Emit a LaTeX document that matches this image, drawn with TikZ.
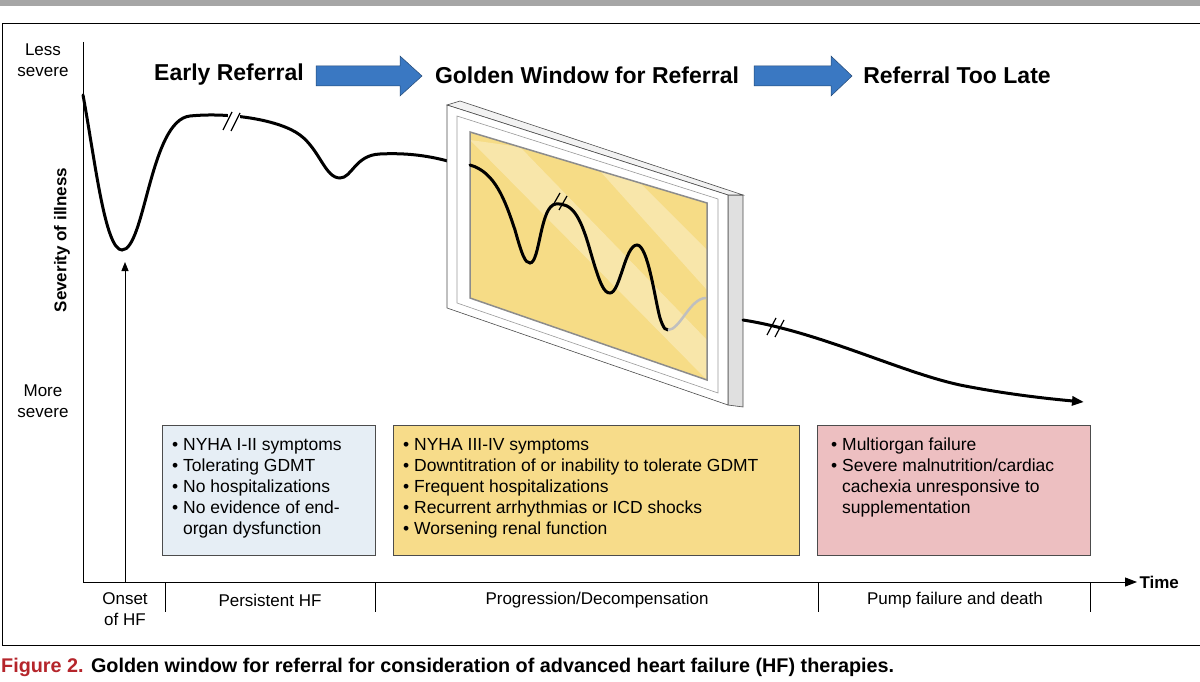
\documentclass[tikz,border=0pt]{standalone}
\usepackage{fontspec}
\setmainfont{Liberation Sans}
\usetikzlibrary{arrows.meta}
\definecolor{bluebox}{HTML}{E6EEF5}
\definecolor{yelbox}{HTML}{F7DC8A}
\definecolor{pinkbox}{HTML}{EDBFC1}
\definecolor{arrowblue}{HTML}{3A78C2}
\definecolor{capred}{HTML}{B5252B}
\definecolor{glass}{HTML}{F6DC86}
\begin{document}
\begin{tikzpicture}[x=1pt,y=-1pt,
  txt/.style={font=\fontsize{17.5}{21}\selectfont,align=left,anchor=north west,inner sep=0pt},
  box/.style={draw=black!70,line width=0.6pt},
  head/.style={font=\fontsize{23}{26}\selectfont\bfseries},
  barr/.style={fill=arrowblue,draw=arrowblue!60!black,line width=0.5pt},
  curve/.style={line width=3pt,line cap=round},
  brk/.style={line width=1.2pt},
  lab/.style={font=\fontsize{17}{21}\selectfont,align=center}]
\useasboundingbox (0,0) rectangle (1200,682);
\fill[black!35] (0,0) rectangle (1200,6);
\draw[line width=1pt] (2,24) -- (1200,24);
\draw[line width=0.8pt] (2,24) -- (2,645) -- (1200,645);
% axes
\draw[line width=1pt] (83,42) -- (83,582);
\draw[line width=1pt,-{Triangle[length=12pt,width=9pt]}] (83,582) -- (1137,582) node[right,font=\fontsize{17}{20}\selectfont\bfseries,inner sep=2pt] (time) {Time};
\foreach \x in {165,375,818,1090} \draw[line width=1pt] (\x,582) -- (\x,612);
\node[lab] (onset) at (125,609) {Onset\\of HF};
\node[lab] (pers) at (270,600) {Persistent HF};
\node[lab] (prog) at (597,600) {Progression/Decompensation};
\node[lab] (pump) at (955,600) {Pump failure and death};
\node[lab] (less) at (43,60) {Less\\severe};
\node[lab] (more) at (43,401) {More\\severe};
\node[rotate=90,font=\fontsize{17}{20}\selectfont\bfseries] (sev) at (62,240) {Severity of illness};
\draw[line width=1pt,-{Triangle[length=9pt,width=7pt]}] (125,582) -- (125,262);
% headings
\node[head] (h1) at (229,75) {Early Referral};
\node[head] (h2) at (587,75) {Golden Window for Referral};
\node[head] (h3) at (957,75) {Referral Too Late};
\draw[barr] (316,66) -- (400,66) -- (400,56) -- (422,76) -- (400,96) -- (400,86) -- (316,86) -- cycle;
\draw[barr] (754,66) -- (831,66) -- (831,56) -- (852,76) -- (831,96) -- (831,86) -- (754,86) -- cycle;
% curve outside window
\draw[curve] (83,95) .. controls (95,160) and (105,250) .. (122,250) .. controls (145,250) and (150,120) .. (190,116)
  .. controls (230,112) and (280,120) .. (300,135) .. controls (320,150) and (325,178) .. (340,178)
  .. controls (352,178) and (355,155) .. (380,154) .. controls (420,152) and (450,160) .. (480,172);
% window
\fill[black!12,draw=black!70,line width=0.6pt] (728,195) -- (743,195) -- (743,407) -- (728,405) -- cycle;
\fill[black!5,draw=black!70,line width=0.6pt] (447,105) -- (460,101) -- (743,195) -- (728,195) -- cycle;
\fill[white,draw=black!70,line width=0.6pt] (447,105) -- (728,195) -- (728,405) -- (447,308) -- cycle;
\draw[black!40,line width=0.6pt] (457,116) -- (718,199) -- (718,393) -- (457,303) -- cycle;
\begin{scope}
\clip (470,132) -- (707,203) -- (707,380) -- (470,298) -- cycle;
\fill[glass] (400,100) rectangle (720,400);
\fill[white,opacity=0.3] (470,140) -- (520,147) -- (707,340) -- (707,380) -- cycle;
\fill[white,opacity=0.3] (600,171) -- (640,183) -- (707,250) -- (707,290) -- cycle;
\end{scope}
\draw[black!45,line width=1.5pt] (470,132) -- (707,203) -- (707,380) -- (470,298) -- cycle;
\draw[curve] (470,165) .. controls (495,172) and (505,200) .. (515,230)
  .. controls (522,255) and (525,263) .. (530,263) .. controls (540,263) and (540,205) .. (556,204)
  .. controls (572,203) and (580,215) .. (590,250) .. controls (600,285) and (604,293) .. (610,293)
  .. controls (620,293) and (625,245) .. (637,245) .. controls (648,245) and (655,300) .. (660,318)
  .. controls (664,330) and (666,330) .. (668,330);
\draw[line width=2.5pt,black!25] (668,330) .. controls (680,330) and (690,298) .. (706,298);
\draw[brk] (552,207) -- (560,193); \draw[brk] (559,210) -- (567,196);
% curve after window
\draw[curve,-{Triangle[length=12pt,width=9pt]}] (743,320) .. controls (820,332) and (900,372) .. (960,385) .. controls (1000,393) and (1040,398) .. (1084,402);
\draw[brk] (767,335) -- (776,318); \draw[brk] (775,337) -- (784,320);
% breaks on first curve
\fill[white] (228,108) rectangle (240,128);
\draw[brk] (223,130) -- (232,112); \draw[brk] (231,131) -- (240,113);
% boxes
\draw[box,fill=bluebox] (162,425) rectangle (375,555);
\draw[box,fill=yelbox] (393,425) rectangle (799,555);
\draw[box,fill=pinkbox] (817,425) rectangle (1090,555);
\node[txt] (t1) at (172,438) {• NYHA I-II symptoms\\• Tolerating GDMT\\• No hospitalizations\\• No evidence of end-\\\phantom{• }organ dysfunction};
\node[txt] (t2) at (403,438) {• NYHA III-IV symptoms\\• Downtitration of or inability to tolerate GDMT\\• Frequent hospitalizations\\• Recurrent arrhythmias or ICD shocks\\• Worsening renal function};
\node[txt] (t3) at (831,438) {• Multiorgan failure\\• Severe malnutrition/cardiac\\\phantom{• }cachexia unresponsive to\\\phantom{• }supplementation};
\node[anchor=west,font=\fontsize{19.8}{22}\selectfont\bfseries,inner sep=0pt] (cap) at (1,667) {\textcolor{capred}{Figure 2.} Golden window for referral for consideration of advanced heart failure (HF) therapies.};
\end{tikzpicture}
\end{document}
